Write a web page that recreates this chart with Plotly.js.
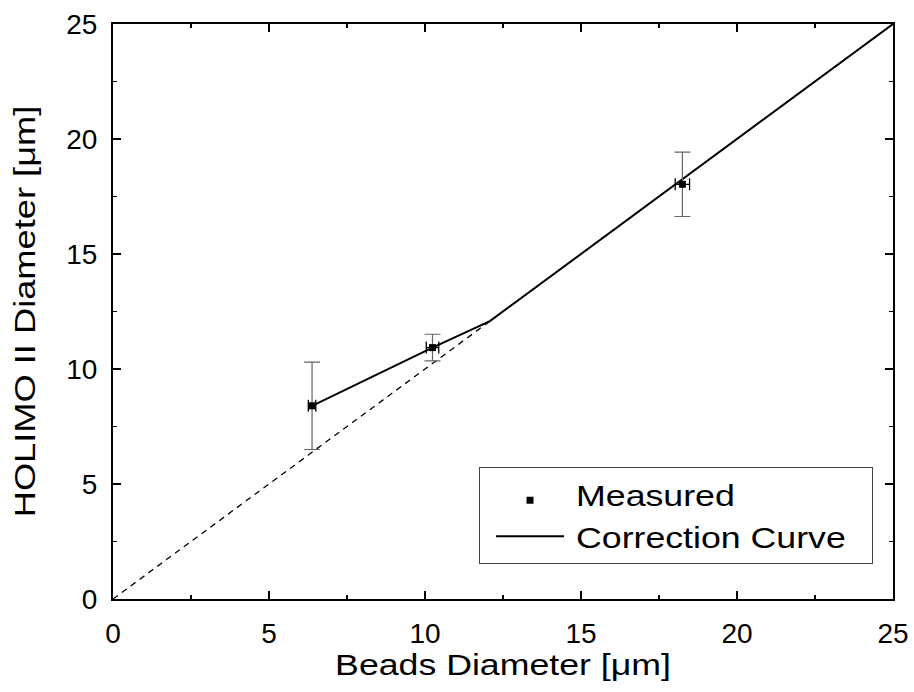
<!DOCTYPE html>
<html><head><meta charset="utf-8">
<script src="https://cdn.plot.ly/plotly-3.0.1.min.js"></script>
<style>body{margin:0;background:#fff}#chart{width:914px;height:692px}</style>
</head><body><div id="chart"></div>
<script>
const beadsDiameter = [6.38, 10.24, 18.25];
const holimoDiameter = [8.4, 10.93, 18.03];
const holimoErr = [1.9, 0.58, 1.4];
const beadsErr = [0.12, 0.2, 0.23];
const curveX = [6.38, 10.24, 12.08, 25];
const curveY = [8.4, 10.93, 12.08, 25];
const identityX = [0, 12.08];
const identityY = [0, 12.08];

const font = 'Liberation Sans, Arial, sans-serif';
const traces = [
  {x: identityX, y: identityY, mode: 'lines', line: {color: '#000', width: 1.3, dash: '6px,5px'}, showlegend: false, hoverinfo: 'skip'},
  {x: curveX, y: curveY, mode: 'lines', name: 'Correction Curve', line: {color: '#000', width: 2}},
  {x: beadsDiameter, y: holimoDiameter, mode: 'markers', name: 'Measured',
   marker: {symbol: 'square', size: 7, color: '#000'},
   error_y: {type: 'data', array: holimoErr, visible: true, color: '#666', thickness: 1.2, width: 8},
   error_x: {type: 'data', array: beadsErr, visible: true, color: '#000', thickness: 1.3, width: 6}}
];
const axisCommon = {
  range: [0, 25], dtick: 5, ticks: 'inside', ticklen: 8, tickwidth: 1.5, tickcolor: '#000',
  showline: true, linecolor: '#000', linewidth: 2, mirror: 'ticks', showgrid: false, zeroline: false,
  tickfont: {family: font, size: 28, color: '#000'}, ticklabelstandoff: 8,
  minor: {dtick: 2.5, ticks: 'inside', ticklen: 4, tickwidth: 1.2, tickcolor: '#000', showgrid: false}
};
const layout = {
  width: 914, height: 692,
  margin: {l: 113, r: 21, t: 24, b: 93},
  paper_bgcolor: '#fff', plot_bgcolor: '#fff',
  showlegend: true,
  legend: {x: 0.469, y: 0.2296, xanchor: 'left', yanchor: 'top', bgcolor: '#fff', bordercolor: '#444', borderwidth: 1.2,
           font: {family: font, size: 30, color: '#000'}, traceorder: 'reversed', tracegroupgap: 0, itemwidth: 68},
  xaxis: Object.assign({}, axisCommon, {title: {text: 'Beads Diameter [μm]', font: {family: font, size: 29, color: '#000'}, standoff: 7}}),
  yaxis: Object.assign({}, axisCommon, {title: {text: 'HOLIMO II Diameter [μm]', font: {family: font, size: 29, color: '#000'}, standoff: 22}})
};

function stretch(sel, k) {
  let extra = 0;
  document.querySelectorAll(sel).forEach(t => {
    const L = t.getComputedTextLength();
    t.setAttribute('textLength', (L * k).toFixed(1));
    t.setAttribute('lengthAdjust', 'spacingAndGlyphs');
    extra = Math.max(extra, L * (k - 1));
  });
  return extra;
}

Plotly.newPlot('chart', traces, layout, {displayModeBar: false, staticPlot: true}).then(() => {
  stretch('.xtitle', 1.23);
  stretch('.ytitle', 1.25);
  const shift = 18;
  document.querySelectorAll('.legendtext').forEach(t => {
    const x0 = parseFloat(t.getAttribute('x') || 0);
    t.setAttribute('x', x0 + shift);
  });
  document.querySelectorAll('.legend .legendlines').forEach(g => g.setAttribute('transform', 'translate(11,0)'));
  document.querySelectorAll('.legend .legendpoints').forEach(g => g.setAttribute('transform', 'translate(11,6)'));
  const extra = stretch('.legendtext', 1.19) + shift + 20;
  const bg = document.querySelector('.legend rect.bg');
  if (bg) bg.setAttribute('width', parseFloat(bg.getAttribute('width')) + extra);
  document.querySelectorAll('clipPath[id^="legend"] rect').forEach(r => {
    r.setAttribute('width', parseFloat(r.getAttribute('width')) + extra);
  });
});
</script></body></html>
